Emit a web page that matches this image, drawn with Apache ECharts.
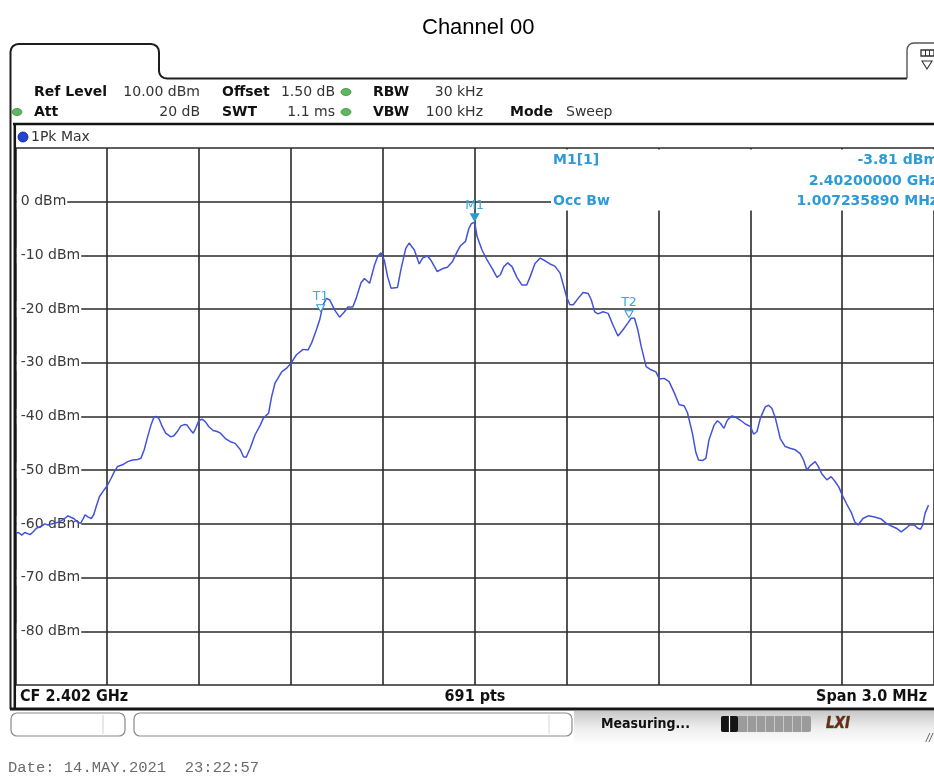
<!DOCTYPE html>
<html>
<head>
<meta charset="utf-8">
<title>Channel 00</title>
<script src="https://cdn.jsdelivr.net/npm/echarts@6/dist/echarts.min.js"></script>
<style>
  html, body { margin: 0; padding: 0; background: #ffffff; }
  #chart { width: 934px; height: 776px; }
</style>
</head>
<body>
<div id="chart"></div>
<script>
// Spectrum trace: frequency offset from the centre frequency (kHz) and level (dBm)
const freqOffsetKHz = [
  -1500, -1490, -1479, -1469, -1452, -1442, -1431, -1414, -1404, -1393,
  -1382, -1366, -1349, -1339, -1328, -1317, -1309, -1298, -1287, -1279,
  -1272, -1263, -1252, -1244, -1236, -1225, -1214, -1200, -1187, -1177,
  -1166, -1150, -1133, -1117, -1101, -1090, -1079, -1068, -1057, -1047,
  -1038, -1030, -1020, -1009, -992, -982, -971, -960, -949, -939,
  -928, -919, -911, -901, -890, -879, -868, -854, -841, -830,
  -814, -798, -782, -765, -755, -746, -733, -717, -700, -690,
  -673, -663, -652, -630, -614, -600, -582, -560, -544, -533,
  -517, -506, -495, -484, -473, -457, -441, -425, -414, -398,
  -387, -371, -360, -343, -327, -316, -306, -295, -284, -273,
  -252, -241, -225, -214, -197, -181, -170, -154, -143, -122,
  -106, -89, -73, -57, -46, -30, -19, -11, 0, 8,
  24, 41, 57, 73, 84, 95, 108, 122, 138, 154,
  170, 181, 197, 214, 230, 246, 262, 279, 291, 300,
  311, 322, 338, 354, 371, 381, 392, 403, 419, 436,
  452, 468, 484, 500, 511, 522, 533, 544, 560, 576,
  592, 603, 619, 635, 652, 668, 684, 695, 711, 722,
  731, 744, 755, 765, 782, 793, 803, 814, 825, 839,
  852, 868, 884, 901, 911, 922, 933, 949, 960, 971,
  982, 998, 1014, 1030, 1047, 1063, 1074, 1085, 1095, 1112,
  1122, 1133, 1150, 1164, 1177, 1189, 1200, 1214, 1231, 1241,
  1252, 1268, 1285, 1306, 1328, 1344, 1361, 1377, 1393, 1409,
  1420, 1436, 1447, 1456, 1463, 1471, 1482
];
const levelDbm = [
  -61.7, -61.6, -62.1, -61.6, -62.0, -61.5, -60.8, -60.4, -60.0, -60.2,
  -60.0, -59.8, -59.4, -59.0, -58.5, -58.8, -59.0, -59.6, -59.9, -59.1,
  -58.3, -58.7, -59.0, -58.3, -56.8, -54.9, -54.0, -52.9, -51.5, -50.3,
  -49.3, -49.0, -48.4, -48.1, -48.0, -47.8, -46.2, -43.8, -41.6, -40.1,
  -40.0, -40.5, -41.9, -43.1, -43.8, -43.6, -42.8, -41.8, -41.5, -41.6,
  -42.5, -43.1, -42.2, -40.8, -40.5, -41.0, -41.9, -42.6, -42.8, -43.1,
  -44.1, -44.7, -45.0, -46.2, -47.5, -47.6, -45.9, -43.4, -41.6, -40.3,
  -39.4, -36.3, -33.8, -31.7, -31.0, -30.1, -28.5, -27.5, -27.6, -26.4,
  -23.9, -22.0, -19.2, -18.0, -18.3, -20.2, -21.5, -20.5, -19.6, -19.6,
  -18.0, -15.1, -14.3, -15.2, -11.8, -10.1, -9.5, -10.9, -14.0, -16.1,
  -16.0, -12.7, -8.7, -7.7, -9.0, -11.6, -10.5, -10.1, -10.9, -13.0,
  -12.5, -12.2, -11.2, -9.3, -8.2, -7.4, -5.0, -4.1, -3.81, -6.5,
  -9.0, -10.9, -12.4, -14.1, -13.6, -12.1, -11.4, -12.1, -14.1, -15.5,
  -15.5, -14.0, -11.5, -10.5, -11.0, -11.6, -12.0, -13.3, -15.8, -17.7,
  -19.2, -19.2, -18.0, -16.9, -17.1, -18.3, -20.5, -20.9, -20.5, -20.8,
  -23.0, -25.0, -23.9, -22.6, -21.7, -21.7, -23.9, -27.0, -30.7, -31.3,
  -31.7, -33.0, -32.9, -33.5, -35.6, -37.8, -38.0, -39.3, -43.1, -46.6,
  -48.1, -48.2, -47.8, -44.4, -41.6, -40.8, -41.3, -42.2, -40.7, -39.9,
  -40.1, -40.7, -41.4, -41.9, -43.3, -42.8, -40.3, -38.2, -37.9, -38.5,
  -40.3, -44.1, -45.6, -45.9, -46.2, -46.9, -48.1, -50.0, -49.2, -48.4,
  -49.3, -50.6, -51.8, -51.2, -52.1, -53.1, -54.6, -56.2, -58.0, -59.6,
  -60.2, -59.0, -58.5, -58.7, -59.1, -59.9, -60.4, -60.8, -61.5, -60.8,
  -60.2, -60.2, -60.8, -61.0, -60.2, -58.0, -56.5
];

// Level axis: reference level 10 dBm, 10 dB/div
const levelTicks = [10, 0, -10, -20, -30, -40, -50, -60, -70, -80, -90];
const levelTickUnit = ' dBm';

// Frequency axis: span 3.0 MHz in 10 divisions
const spanKHz = [-1500, 1500];
const freqDivKHz = 300;

// Markers: M1 peak and the two occupied-bandwidth edges
const markerNames = ['M1', 'T1', 'T2'];
const markerFreqKHz = [0, -503, 504];
const markerLevel = [-3.81, -20.5, -21.6];

// Instrument readouts
const settingsRow1 = ['Ref Level', '10.00 dBm', 'Offset', '1.50 dB', 'RBW', '30 kHz'];
const settingsRow2 = ['Att', '20 dB', 'SWT', '1.1 ms', 'VBW', '100 kHz', 'Mode', 'Sweep'];
const markerReadout = ['M1[1]', '-3.81 dBm', '2.40200000 GHz', 'Occ Bw', '1.007235890 MHz'];
const footer = ['CF 2.402 GHz', '691 pts', 'Span 3.0 MHz'];
const stamp = 'Date: 14.MAY.2021  23:22:57';

const SANS = "'DejaVu Sans', Verdana, sans-serif";
const COND = "'DejaVu Sans Condensed', 'Liberation Sans Narrow', 'DejaVu Sans', sans-serif";
const MARK_BLUE = '#2c9bd6';

function text(x, y, s, font, fill, align, extraStyle) {
  return {
    type: 'text', z: 20, silent: true,
    style: Object.assign({
      x: x, y: y, text: s, font: font, fill: fill || '#222',
      align: align || 'left', verticalAlign: 'middle',
      textAlign: align || 'left', textVerticalAlign: 'middle'
    }, extraStyle || {})
  };
}
function line(x1, y1, x2, y2, color, w, z) {
  return { type: 'line', z: z || 15, silent: true,
    shape: { x1: x1, y1: y1, x2: x2, y2: y2 },
    style: { stroke: color, lineWidth: w } };
}
function poly(points, color, w, z) {
  return { type: 'polyline', z: z || 15, silent: true,
    shape: { points: points },
    style: { stroke: color, lineWidth: w, fill: null } };
}
function dot(cx, cy, rx, ry, fill, stroke) {
  return { type: 'ellipse', z: 20, silent: true,
    shape: { cx: cx, cy: cy, rx: rx, ry: ry },
    style: { fill: fill, stroke: stroke, lineWidth: 0.8 } };
}

const hdrBold = 'bold 14px ' + SANS;
const hdrReg = '14px ' + SANS;
const mkFont = 'bold 14px ' + SANS;

const graphics = [
  // tab outline and header rule
  poly([[10.5, 709], [10.5, 52], [11.1, 48.9], [12.8, 46.3], [15.4, 44.6], [18.5, 44],
        [151, 44], [154.1, 44.6], [156.7, 46.3], [158.4, 48.9], [159, 52],
        [159, 71], [159.6, 73.9], [161.2, 76.3], [163.7, 77.9], [167, 78.5], [907, 78.5]], '#1e1e1e', 2),
  // right-hand softkey button
  poly([[907, 78.5], [907, 50], [907.5, 47.3], [909, 45], [911.3, 43.5], [914, 43], [940, 43]], '#555', 1.4),
  { type: 'rect', z: 16, silent: true, shape: { x: 921, y: 50, width: 13, height: 6 },
    style: { fill: '#fff', stroke: '#333', lineWidth: 1.3 } },
  line(925.5, 50, 925.5, 56, '#333', 1, 17), line(929.5, 50, 929.5, 56, '#333', 1, 17),
  { type: 'polygon', z: 16, silent: true, shape: { points: [[922, 61], [932, 61], [927, 69]] },
    style: { fill: '#fff', stroke: '#333', lineWidth: 1.1 } },

  // header texts
  text(34, 92, settingsRow1[0], hdrBold, '#111'),
  text(200, 92, settingsRow1[1], hdrReg, '#333', 'right'),
  text(222, 92, settingsRow1[2], hdrBold, '#111'),
  text(335, 92, settingsRow1[3], hdrReg, '#333', 'right'),
  dot(346, 92, 5, 3.5, '#5fb760', '#3e8a3e'),
  text(373, 92, settingsRow1[4], hdrBold, '#111'),
  text(483, 92, settingsRow1[5], hdrReg, '#333', 'right'),

  dot(17, 112, 5, 3.5, '#5fb760', '#3e8a3e'),
  text(34, 112, settingsRow2[0], hdrBold, '#111'),
  text(200, 112, settingsRow2[1], hdrReg, '#333', 'right'),
  text(222, 112, settingsRow2[2], hdrBold, '#111'),
  text(335, 112, settingsRow2[3], hdrReg, '#333', 'right'),
  dot(346, 112, 5, 3.5, '#5fb760', '#3e8a3e'),
  text(373, 112, settingsRow2[4], hdrBold, '#111'),
  text(483, 112, settingsRow2[5], hdrReg, '#333', 'right'),
  text(510, 112, settingsRow2[6], hdrBold, '#111'),
  text(566, 112, settingsRow2[7], hdrReg, '#333'),

  // trace window frame
  line(13, 124, 940, 124, '#151515', 2.5),
  line(14.8, 124, 14.8, 709, '#151515', 2.5, 30),
  dot(23, 137, 5, 5, '#2342d6', '#0c1f8a'),
  text(31, 137, '1Pk Max', hdrReg, '#333'),

  // marker readout panel
  { type: 'rect', z: 12, silent: true, shape: { x: 551, y: 149.5, width: 390, height: 61 },
    style: { fill: '#ffffff' } },
  text(553, 160, markerReadout[0], mkFont, MARK_BLUE),
  text(938, 160, markerReadout[1], mkFont, MARK_BLUE, 'right'),
  text(938, 181, markerReadout[2], mkFont, MARK_BLUE, 'right'),
  text(553, 201, markerReadout[3], mkFont, MARK_BLUE),
  text(938, 201, markerReadout[4], mkFont, MARK_BLUE, 'right'),

  // footer of the trace window
  text(20, 697, footer[0], 'bold 16px ' + COND, '#111'),
  text(475, 697, footer[1], 'bold 16px ' + COND, '#111', 'center'),
  text(927, 697, footer[2], 'bold 16px ' + COND, '#111', 'right'),
  line(10, 709, 940, 709, '#151515', 3),

  // status bar
  { type: 'rect', z: 11, silent: true, shape: { x: 574, y: 711, width: 370, height: 34 },
    style: { fill: { type: 'linear', x: 0, y: 0, x2: 0, y2: 1,
      colorStops: [{ offset: 0, color: '#c8c8c8' }, { offset: 0.5, color: '#eeeeee' }, { offset: 1, color: '#ffffff' }] } } },
  { type: 'rect', z: 15, silent: true, shape: { x: 11, y: 713, width: 114, height: 23, r: 6 },
    style: { fill: '#fff', stroke: '#8a8a8a', lineWidth: 1.2 } },
  line(103, 715, 103, 734, '#d0d0d0', 1),
  { type: 'rect', z: 15, silent: true, shape: { x: 134, y: 713, width: 438, height: 23, r: 6 },
    style: { fill: '#fff', stroke: '#8a8a8a', lineWidth: 1.2 } },
  line(549, 715, 549, 734, '#d8d8d8', 1),
  text(601, 724, 'Measuring...', 'bold 14px ' + COND, '#111'),
  { type: 'rect', z: 15, silent: true, shape: { x: 721, y: 716, width: 90, height: 16, r: 2 },
    style: { fill: '#9b9b9b' } },
  { type: 'rect', z: 16, silent: true, shape: { x: 721, y: 716, width: 17, height: 16, r: 2 },
    style: { fill: '#151515' } },
  line(729.5, 716, 729.5, 732, '#ffffff', 1.2, 17),
  line(747.5, 716, 747.5, 732, '#c8c8c8', 1, 17),
  line(756.5, 716, 756.5, 732, '#c8c8c8', 1, 17),
  line(765.5, 716, 765.5, 732, '#c8c8c8', 1, 17),
  line(774.5, 716, 774.5, 732, '#c8c8c8', 1, 17),
  line(783.5, 716, 783.5, 732, '#c8c8c8', 1, 17),
  line(792.5, 716, 792.5, 732, '#c8c8c8', 1, 17),
  line(801.5, 716, 801.5, 732, '#c8c8c8', 1, 17),
  text(826, 724, 'LXI', 'italic bold 15px ' + COND, '#7b1f1f', 'left', { stroke: '#3e9a3e', lineWidth: 0.7 }),
  text(926, 738, '//', 'italic 10px ' + SANS, '#555'),

  // timestamp
  text(8, 768, stamp, '15.5px "Liberation Mono", "DejaVu Sans Mono", monospace', '#6b6b6b')
];

const traceData = freqOffsetKHz.map(function (f, i) { return [f, levelDbm[i]]; });

const markerData = markerNames.map(function (name, i) {
  const filled = name === 'M1';
  return {
    name: name,
    coord: [markerFreqKHz[i], markerLevel[i]],
    symbol: 'path://M0,0 L10,0 L5,9 Z',
    symbolSize: filled ? [10, 9] : [8, 7],
    symbolOffset: [0, filled ? -4.5 : -3.5],
    itemStyle: filled
      ? { color: MARK_BLUE }
      : { color: '#ffffff', borderColor: MARK_BLUE, borderWidth: 1 },
    label: {
      show: true, formatter: name, position: 'top', distance: 1,
      color: '#3aa6dc', fontSize: 12.5, fontFamily: SANS
    }
  };
});

const chart = echarts.init(document.getElementById('chart'), null, { renderer: 'canvas' });
chart.setOption({
  animation: false,
  backgroundColor: '#ffffff',
  title: {
    text: 'Channel 00', left: 417, top: 12,
    textStyle: { fontSize: 22, fontWeight: 'normal', color: '#000', fontFamily: "'Liberation Sans', Arial, sans-serif" }
  },
  grid: { left: 15.3, right: -5.7, top: 148, bottom: 91, containLabel: false },
  xAxis: {
    type: 'value', min: spanKHz[0], max: spanKHz[1], interval: freqDivKHz,
    axisLine: { show: false }, axisTick: { show: false }, axisLabel: { show: false },
    splitLine: { show: true, lineStyle: { color: '#2a2a2a', width: 1.6 } }
  },
  yAxis: {
    type: 'value', min: levelTicks[levelTicks.length - 1], max: levelTicks[0], interval: 10,
    axisLine: { show: false }, axisTick: { show: false },
    axisLabel: {
      show: true, inside: true, margin: 1.5, showMinLabel: false, showMaxLabel: false,
      formatter: function (v) { return levelTicks.indexOf(v) >= 0 ? v + levelTickUnit : ''; },
      color: '#3a3a3a', fontSize: 14, fontFamily: SANS,
      backgroundColor: '#ffffff', padding: [1, 1, 1, 4]
    },
    splitLine: { show: true, lineStyle: { color: '#2a2a2a', width: 1.6 } }
  },
  series: [{
    type: 'line',
    data: traceData,
    showSymbol: false,
    z: 5,
    lineStyle: { color: '#4353d8', width: 1.5 },
    markPoint: { data: markerData, animation: false, z: 8 }
  }],
  graphic: graphics
});
</script>
</body>
</html>
